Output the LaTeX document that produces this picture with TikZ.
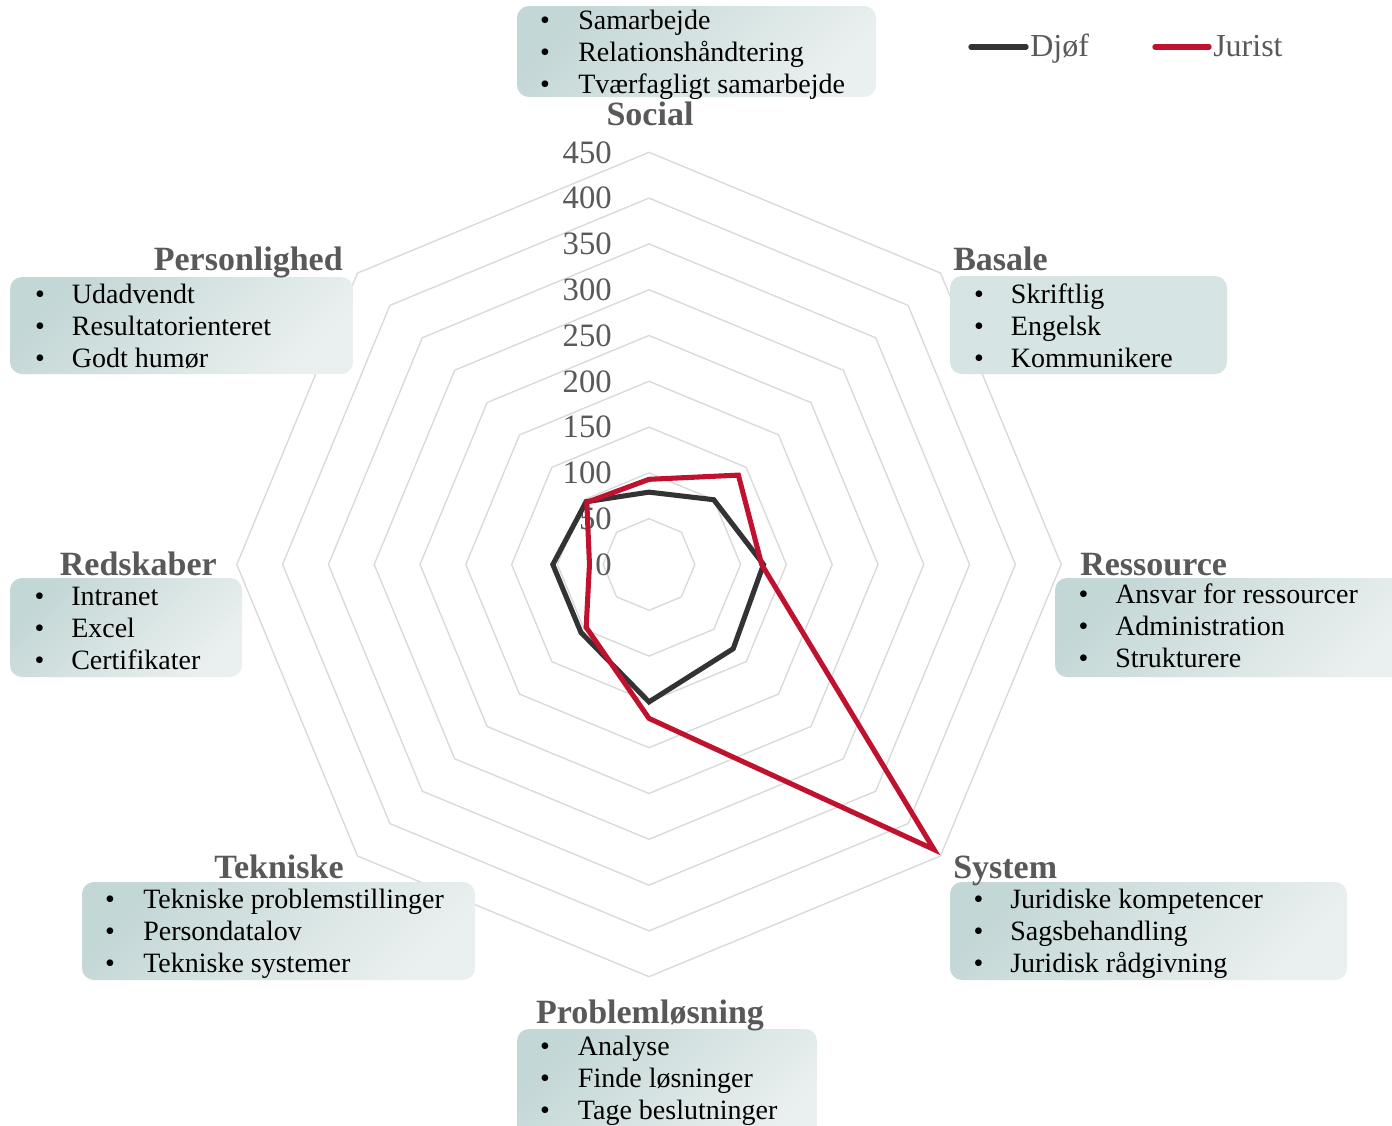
\documentclass[tikz,border=0pt]{standalone}
\usepackage{fontspec}
\setmainfont{Liberation Serif}
\definecolor{txtgray}{HTML}{595959}
\definecolor{gridgray}{HTML}{D9D9D9}
\definecolor{djof}{HTML}{333333}
\definecolor{jurist}{HTML}{C0122F}
\definecolor{boxdark}{HTML}{C3D7D6}
\definecolor{boxlight}{HTML}{EAF0EF}
\definecolor{boxflat}{HTML}{D6E4E3}
\newcommand{\bulletitems}[5]{%
  \foreach \t [count=\i] in {#5} {
    \node[bul] (#1b\i) at (#2,{#4+32*(\i-1)}) {•};
    \node[itm] (#1t\i) at (#3,{#4+32*(\i-1)}) {\t};
  }%
}
\begin{document}
\begin{tikzpicture}[x=0.75pt,y=-0.75pt,
  gridline/.style={draw=gridgray, line width=1pt},
  serline/.style={line width=3.8pt, miter limit=20},
  djofline/.style={serline, draw=djof},
  juristline/.style={serline, draw=jurist},
  panel/.style={rounded corners=9pt, top color=boxdark, bottom color=boxlight, shading angle=45},
  flatpanel/.style={rounded corners=9pt, fill=boxflat},
  bul/.style={anchor=base, inner sep=0pt, font=\fontsize{21}{24}\selectfont},
  itm/.style={anchor=base west, inner sep=0pt, font=\fontsize{21}{24}\selectfont},
  cat/.style={inner sep=0pt, text=txtgray, font=\bfseries\fontsize{25.5}{30}\selectfont},
  axlbl/.style={anchor=east, inner sep=0pt, text=txtgray, font=\fontsize{24.5}{28}\selectfont},
  legtxt/.style={anchor=base west, inner sep=0pt, text=txtgray, font=\fontsize{24}{28}\selectfont},
  legline/.style={line width=4pt, line cap=round},
]
\clip (0,0) rectangle (1392,1125);
\fill[white] (0,0) rectangle (1392,1125);

% radar grid
\begin{scope}[shift={(649,564.5)}, yscale=-1]
  \foreach \k in {1,...,9} {
    \draw[gridline] (90:{\k*45.8}) -- (45:{\k*45.8}) -- (0:{\k*45.8}) -- (-45:{\k*45.8})
      -- (-90:{\k*45.8}) -- (-135:{\k*45.8}) -- (180:{\k*45.8}) -- (135:{\k*45.8}) -- cycle;
  }
\end{scope}

% axis labels
\foreach \k in {0,...,9} {
  \pgfmathtruncatemacro{\v}{\k*50}
  \node[axlbl] (ax\k) at (612,{564.5-\k*45.8}) {\v};
}

% data series
\begin{scope}[shift={(649,564.5)}, yscale=-1]
  \def\s{0.916}
  \coordinate (d1) at (90:{79*\s});
  \coordinate (d2) at (45:{100*\s});
  \coordinate (d3) at (0:{125*\s});
  \coordinate (d4) at (-45:{130*\s});
  \coordinate (d5) at (-90:{150*\s});
  \coordinate (d6) at (-135:{105*\s});
  \coordinate (d7) at (180:{105*\s});
  \coordinate (d8) at (135:{97*\s});
  \coordinate (j1) at (90:{93*\s});
  \coordinate (j2) at (45:{138*\s});
  \coordinate (j3) at (0:{123*\s});
  \coordinate (j4) at (-45:{440*\s});
  \coordinate (j5) at (-90:{168*\s});
  \coordinate (j6) at (-135:{97*\s});
  \coordinate (j7) at (180:{65*\s});
  \coordinate (j8) at (135:{96*\s});
\end{scope}
\draw[djofline] (d1) -- (d2) -- (d3) -- (d4) -- (d5) -- (d6) -- (d7) -- (d8) -- cycle;
\draw[juristline] (j1) -- (j2) -- (j3) -- (j4) -- (j5) -- (j6) -- (j7) -- (j8) -- cycle;

% panels
\path[panel] (517,6) rectangle (876,97);
\path[flatpanel] (950,276) rectangle (1227,374);
\path[panel] (1055,578) rectangle (1420,677);
\path[panel] (950,882) rectangle (1347,980);
\path[panel] (517,1029) rectangle (817,1150);
\path[panel] (82,882) rectangle (475,980);
\path[panel] (10,578) rectangle (242,677);
\path[panel] (10,277) rectangle (353,374);

% category titles
\node[cat, anchor=base] (tSocial) at (650,125) {Social};
\node[cat, anchor=base west] (tBasale) at (953,270) {Basale};
\node[cat, anchor=base west] (tRessource) at (1080,575) {Ressource};
\node[cat, anchor=base west] (tSystem) at (953,878) {System};
\node[cat, anchor=base] (tProblem) at (650,1023) {Problemløsning};
\node[cat, anchor=base] (tTekniske) at (279,878) {Tekniske};
\node[cat, anchor=base east] (tRedskaber) at (217,575) {Redskaber};
\node[cat, anchor=base east] (tPerson) at (343,270) {Personlighed};

% items
\bulletitems{soc}{545}{578}{29.3}{Samarbejde,Relationshåndtering,Tværfagligt samarbejde}
\bulletitems{bas}{979}{1010.7}{303.3}{Skriftlig,Engelsk,Kommunikere}
\bulletitems{res}{1083.5}{1115}{603.3}{Ansvar for ressourcer,Administration,Strukturere}
\bulletitems{sys}{978.5}{1010}{908.3}{Juridiske kompetencer,Sagsbehandling,Juridisk rådgivning}
\bulletitems{pro}{545}{577.7}{1055.5}{Analyse,Finde løsninger,Tage beslutninger}
\bulletitems{tek}{110}{143}{908.3}{Tekniske problemstillinger,Persondatalov,Tekniske systemer}
\bulletitems{red}{39.5}{71}{605}{Intranet,Excel,Certifikater}
\bulletitems{per}{40}{71.7}{303.3}{Udadvendt,Resultatorienteret,Godt humør}

% legend
\coordinate (lgA1) at (971,47);
\coordinate (lgA2) at (1026,47);
\coordinate (lgB1) at (1155,47);
\coordinate (lgB2) at (1209,47);
\draw[legline, draw=djof] (lgA1) -- (lgA2);
\draw[legline, draw=jurist] (lgB1) -- (lgB2);
\node[legtxt] (lgDjof) at (1030,56) {Djøf};
\node[legtxt] (lgJurist) at (1213,56) {Jurist};
\end{tikzpicture}
\end{document}
